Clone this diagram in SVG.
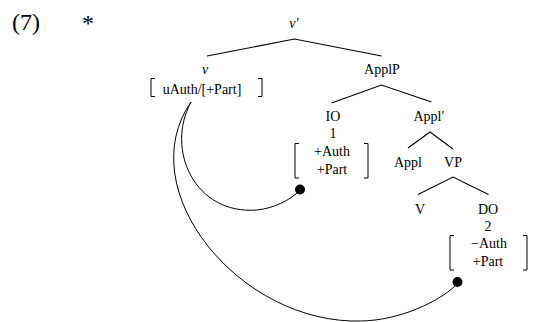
<svg xmlns="http://www.w3.org/2000/svg" width="537" height="322" viewBox="0 0 537 322">
<style>
text{font-family:"Liberation Serif","Times New Roman",serif;font-size:14px;fill:#000;text-anchor:middle}
.big{font-size:24px;text-anchor:start}
.it{font-style:italic}
.edge{stroke:#000;stroke-width:1.1;fill:none}
.br{stroke:#000;stroke-width:1;fill:none}
.arc{stroke:#000;stroke-width:1;fill:none}
.dot{fill:#000}
</style>
<rect width="537" height="322" fill="#fff"/>
<text class="big" x="12" y="30">(7)</text>
<text class="big" x="82" y="31">*</text>
<g id="connectors">
<path class="edge" d="M207,56 L294.5,39 L381.5,56"/>
<path class="edge" d="M331.5,103 L381.5,85 L431.5,102"/>
<path class="edge" d="M408,148 L430,132 L453,149"/>
<path class="edge" d="M418,194.5 L453,177 L488.5,194.5"/>
<path class="arc" d="M191,102 C165,150 195,215 257,210 C275,208 289,200 297,193"/>
<path class="arc" d="M191,102 C130,190 240,325 362,321 C400,320 438,302 455,286"/>
<circle class="dot" cx="300" cy="189.5" r="5"/>
<circle class="dot" cx="457.5" cy="282" r="5"/>
</g>
<g id="vbar"><text class="it" x="294" y="28">v′</text></g>
<g id="v">
<text class="it" x="205" y="74">v</text>
<path class="br" d="M155,78.5 H151 V96.5 H155"/>
<text x="202" y="94">uAuth/[+Part]</text>
<path class="br" d="M258,78.5 H262 V96.5 H258"/>
</g>
<g id="ApplP"><text x="382" y="74">ApplP</text></g>
<g id="IO">
<text x="333" y="121">IO</text>
<text x="333" y="138">1</text>
<path class="br" d="M299,143.5 H295 V178 H299"/>
<text x="332" y="156">+Auth</text>
<text x="332" y="174">+Part</text>
<path class="br" d="M364,143.5 H368 V178 H364"/>
</g>
<g id="Applbar"><text x="429" y="121">Appl′</text></g>
<g id="Appl"><text x="408" y="167">Appl</text></g>
<g id="VP"><text x="453" y="167">VP</text></g>
<g id="V"><text x="420" y="214">V</text></g>
<g id="DO">
<text x="488" y="213.5">DO</text>
<text x="488" y="230.5">2</text>
<path class="br" d="M454,235.5 H450 V270 H454"/>
<text x="489" y="248">−Auth</text>
<text x="488" y="266">+Part</text>
<path class="br" d="M523,235.5 H527 V270 H523"/>
</g>
</svg>
